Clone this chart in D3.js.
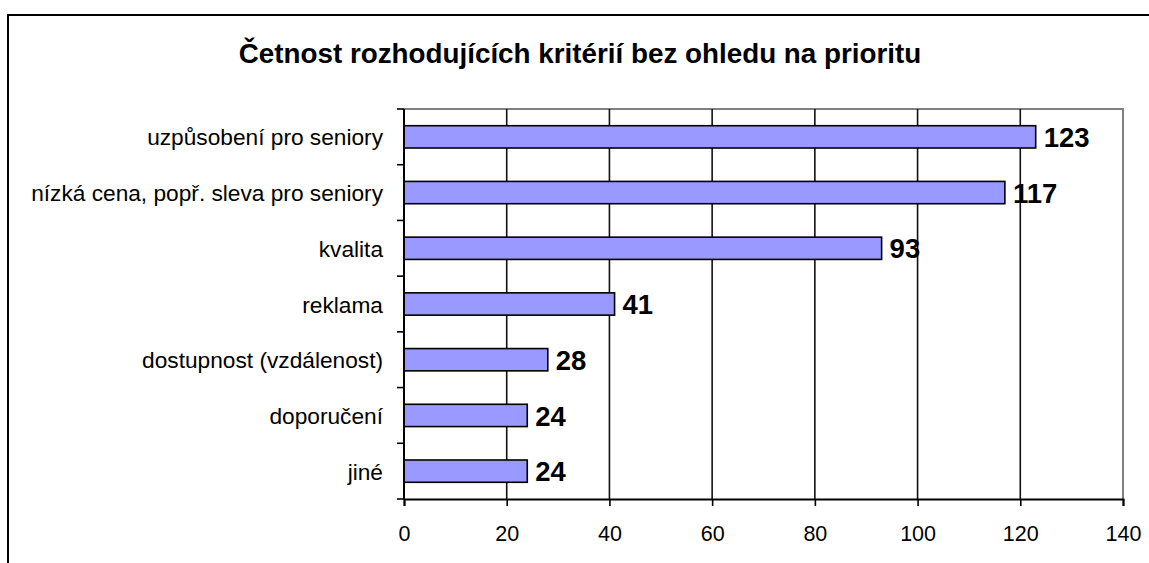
<!DOCTYPE html>
<html>
<head>
<meta charset="utf-8">
<script src="https://cdn.jsdelivr.net/npm/d3@7"></script>
<style>
  body { margin: 0; background: #fff; }
  svg { display: block; }
  text { font-family: Arial, "Liberation Sans", sans-serif; fill: #000; }
</style>
</head>
<body>
<svg width="1149" height="563"></svg>
<script>
var title = "Četnost rozhodujících kritérií bez ohledu na prioritu";
var categories = [
  "uzpůsobení pro seniory",
  "nízká cena, popř. sleva pro seniory",
  "kvalita",
  "reklama",
  "dostupnost (vzdálenost)",
  "doporučení",
  "jiné"
];
var values = [123, 117, 93, 41, 28, 24, 24];
var xTicks = [0, 20, 40, 60, 80, 100, 120, 140];

var svg = d3.select("svg");

// outer chart frame (runs off the right/bottom edge)
svg.append("rect")
  .attr("x", 8)
  .attr("y", 15)
  .attr("width", 1300)
  .attr("height", 700)
  .attr("fill", "none")
  .attr("stroke", "#000")
  .attr("stroke-width", 2);

svg.append("text")
  .attr("x", 580)
  .attr("y", 63)
  .attr("text-anchor", "middle")
  .attr("font-size", "27.8px")
  .attr("font-weight", "bold")
  .text(title);

var plotLeft = 404, plotRight = 1123, plotTop = 109, plotBottom = 499;

var x = d3.scaleLinear().domain([0, 140]).range([plotLeft, plotRight]);
var y = d3.scaleBand()
  .domain(categories)
  .range([plotTop, plotBottom])
  .paddingInner(0.6)
  .paddingOuter(0.3);

// plot area border (grey top + right)
svg.append("path")
  .attr("d", "M" + plotLeft + "," + plotTop + "H" + plotRight + "V" + plotBottom)
  .attr("fill", "none")
  .attr("stroke", "#808080")
  .attr("stroke-width", 2);

// gridlines
svg.append("g")
  .selectAll("line")
  .data(xTicks.filter(function(d) { return d > 0 && d < 140; }))
  .enter()
  .append("line")
  .attr("x1", function(d) { return x(d); })
  .attr("x2", function(d) { return x(d); })
  .attr("y1", plotTop)
  .attr("y2", plotBottom)
  .attr("stroke", "#111")
  .attr("stroke-width", 1.6);

// bars
svg.append("g")
  .selectAll("rect")
  .data(values)
  .enter()
  .append("rect")
  .attr("x", x(0))
  .attr("y", function(d, i) { return y(categories[i]); })
  .attr("width", function(d) { return x(d) - x(0); })
  .attr("height", y.bandwidth())
  .attr("fill", "#9999ff")
  .attr("stroke", "#000")
  .attr("stroke-width", 1.6);

// value labels
svg.append("g")
  .selectAll("text")
  .data(values)
  .enter()
  .append("text")
  .attr("x", function(d) { return x(d) + 8; })
  .attr("y", function(d, i) { return y(categories[i]) + y.bandwidth() / 2; })
  .attr("dy", "0.37em")
  .attr("font-size", "27.5px")
  .attr("font-weight", "bold")
  .text(function(d) { return d; });

// x axis
var xAxis = svg.append("g")
  .attr("transform", "translate(0," + plotBottom + ")")
  .call(d3.axisBottom(x).tickValues(xTicks).tickSize(7).tickPadding(20));
xAxis.select(".domain").attr("stroke", "#000").attr("stroke-width", 2);
xAxis.selectAll(".tick line").attr("stroke", "#000").attr("stroke-width", 1.6);
xAxis.selectAll("text").attr("font-size", "21.5px").attr("font-family", "Arial, 'Liberation Sans', sans-serif");

// y axis line + boundary ticks
var boundaries = d3.range(categories.length + 1).map(function(i) {
  return plotTop + (plotBottom - plotTop) * i / categories.length;
});
svg.append("line")
  .attr("x1", plotLeft).attr("x2", plotLeft)
  .attr("y1", plotTop).attr("y2", plotBottom)
  .attr("stroke", "#000").attr("stroke-width", 2);
svg.append("g")
  .selectAll("line")
  .data(boundaries)
  .enter()
  .append("line")
  .attr("x1", plotLeft - 7).attr("x2", plotLeft)
  .attr("y1", function(d) { return d; })
  .attr("y2", function(d) { return d; })
  .attr("stroke", "#000")
  .attr("stroke-width", 1.6);

// category labels
svg.append("g")
  .selectAll("text")
  .data(categories)
  .enter()
  .append("text")
  .attr("x", plotLeft - 21)
  .attr("y", function(d) { return y(d) + y.bandwidth() / 2; })
  .attr("dy", "0.38em")
  .attr("text-anchor", "end")
  .attr("font-size", "22.7px")
  .text(function(d) { return d; });
</script>
</body>
</html>
